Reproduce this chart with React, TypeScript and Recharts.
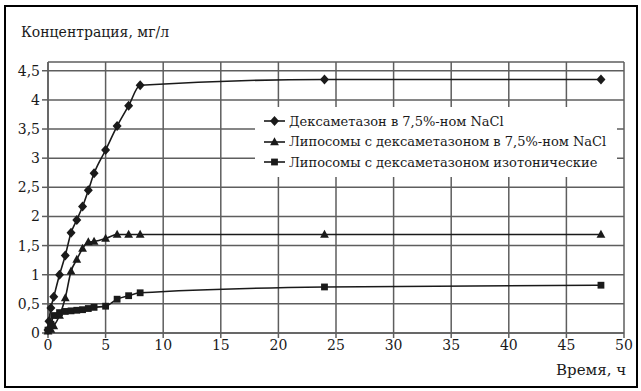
import { LineChart, Line, XAxis, YAxis, CartesianGrid, ReferenceLine } from 'recharts';

// время, ч
const TIME_DEX = [0, 0.083, 0.25, 0.5, 1, 1.5, 2, 2.5, 3, 3.5, 4, 5, 6, 7, 8, 24, 48];
const CONC_DEX = [0.05, 0.2, 0.43, 0.62, 1.0, 1.33, 1.72, 1.94, 2.17, 2.45, 2.74, 3.14, 3.55, 3.9, 4.25, 4.35, 4.35];

const TIME_LIPO_NACL = [0, 0.25, 0.5, 1, 1.5, 2, 2.5, 3, 3.5, 4, 5, 6, 7, 8, 24, 48];
const CONC_LIPO_NACL = [0.03, 0.06, 0.12, 0.3, 0.6, 1.06, 1.26, 1.45, 1.56, 1.57, 1.62, 1.69, 1.69, 1.69, 1.69, 1.69];

const TIME_LIPO_ISO = [0, 0.25, 0.5, 1, 1.5, 2, 2.5, 3, 3.5, 4, 5, 6, 7, 8, 24, 48];
const CONC_LIPO_ISO = [0.05, 0.15, 0.3, 0.35, 0.37, 0.38, 0.39, 0.4, 0.42, 0.44, 0.46, 0.58, 0.64, 0.69, 0.79, 0.82];

const X_TICKS = [0, 5, 10, 15, 20, 25, 30, 35, 40, 45, 50];
const Y_TICKS = [0, 0.5, 1, 1.5, 2, 2.5, 3, 3.5, 4, 4.5];
const Y_MAX = 4.65;

const LABELS = [
  'Дексаметазон в 7,5%-ном NaCl',
  'Липосомы с дексаметазоном в 7,5%-ном NaCl',
  'Липосомы с дексаметазоном изотонические',
];

const toPoints = (t: number[], c: number[]) => t.map((x, i) => ({ x, y: c[i] }));

const FONT = "'DejaVu Serif', 'Liberation Serif', serif";
const INK = '#1a1a1a';
const GRID = '#5e5e5e';

function Marker({ kind, cx, cy }: { kind: string; cx: number; cy: number }) {
  if (kind === 'diamond') {
    return <polygon points={`${cx},${cy - 5} ${cx + 4.5},${cy} ${cx},${cy + 5} ${cx - 4.5},${cy}`} fill={INK} />;
  }
  if (kind === 'triangle') {
    return <polygon points={`${cx},${cy - 4.8} ${cx + 4.4},${cy + 3.2} ${cx - 4.4},${cy + 3.2}`} fill={INK} />;
  }
  return <rect x={cx - 3.4} y={cy - 3.4} width={6.8} height={6.8} fill={INK} />;
}

const dotOf = (kind: string) => (p: any) => (
  <Marker key={`${kind}-${p.index}`} kind={kind} cx={p.cx} cy={p.cy} />
);

const KINDS = ['diamond', 'triangle', 'square'];

function LegendBox() {
  return (
    <div
      style={{
        position: 'absolute', left: 255, top: 107, width: 362, height: 70,
        background: '#fff', padding: '4px 0 0 8px', boxSizing: 'border-box',
        fontFamily: FONT, fontSize: 13, color: INK,
      }}
    >
      {LABELS.map((label, i) => (
        <div key={label} style={{ display: 'flex', alignItems: 'center', height: 20.5 }}>
          <svg width={24} height={14} style={{ marginRight: 2 }}>
            <line x1={1} y1={7} x2={22} y2={7} stroke={INK} strokeWidth={1.6} />
            <Marker kind={KINDS[i]} cx={11.5} cy={7} />
          </svg>
          <span style={{ whiteSpace: 'nowrap' }}>{label}</span>
        </div>
      ))}
    </div>
  );
}

const fmt = (v: number) => String(v).replace('.', ',');

export default function App() {
  const series = [
    toPoints(TIME_DEX, CONC_DEX),
    toPoints(TIME_LIPO_NACL, CONC_LIPO_NACL),
    toPoints(TIME_LIPO_ISO, CONC_LIPO_ISO),
  ];

  return (
    <div style={{ position: 'absolute', left: 0, top: 0, width: 641, height: 391, background: '#fff', fontFamily: FONT }}>
      <div style={{ position: 'absolute', left: 4, top: 5, width: 630, height: 379, border: '2.5px solid #000' }} />
      <div style={{ position: 'absolute', left: 21, top: 24, fontSize: 14, color: INK, whiteSpace: 'nowrap' }}>
        Концентрация, мг/л
      </div>
      <div style={{ position: 'absolute', left: 556, top: 361, fontSize: 15, color: INK, whiteSpace: 'nowrap' }}>
        Время, ч
      </div>
      <LineChart width={641} height={391} margin={{ top: 62, right: 17, left: 0, bottom: 28 }}>
        <CartesianGrid stroke={GRID} strokeWidth={1.5} horizontalValues={Y_TICKS} verticalValues={X_TICKS} />
        <ReferenceLine y={Y_MAX} stroke={GRID} strokeWidth={1.5} />
        <XAxis
          dataKey="x"
          type="number"
          domain={[0, 50]}
          ticks={X_TICKS}
          interval={0}
          allowDuplicatedCategory={false}
          stroke={GRID}
          strokeWidth={1.5}
          tickSize={5}
          height={30}
          tick={{ fill: INK, fontSize: 14, fontFamily: FONT }}
        />
        <YAxis
          type="number"
          domain={[0, Y_MAX]}
          ticks={Y_TICKS}
          interval={0}
          tickFormatter={fmt}
          stroke={GRID}
          strokeWidth={1.5}
          tickSize={6}
          width={48}
          tick={{ fill: INK, fontSize: 14, fontFamily: FONT }}
        />
        {series.map((data, i) => (
          <Line
            key={LABELS[i]}
            data={data}
            dataKey="y"
            name={LABELS[i]}
            type="monotone"
            stroke={INK}
            strokeWidth={1.6}
            dot={dotOf(KINDS[i])}
            activeDot={false}
            isAnimationActive={false}
          />
        ))}
      </LineChart>
      <LegendBox />
    </div>
  );
}
